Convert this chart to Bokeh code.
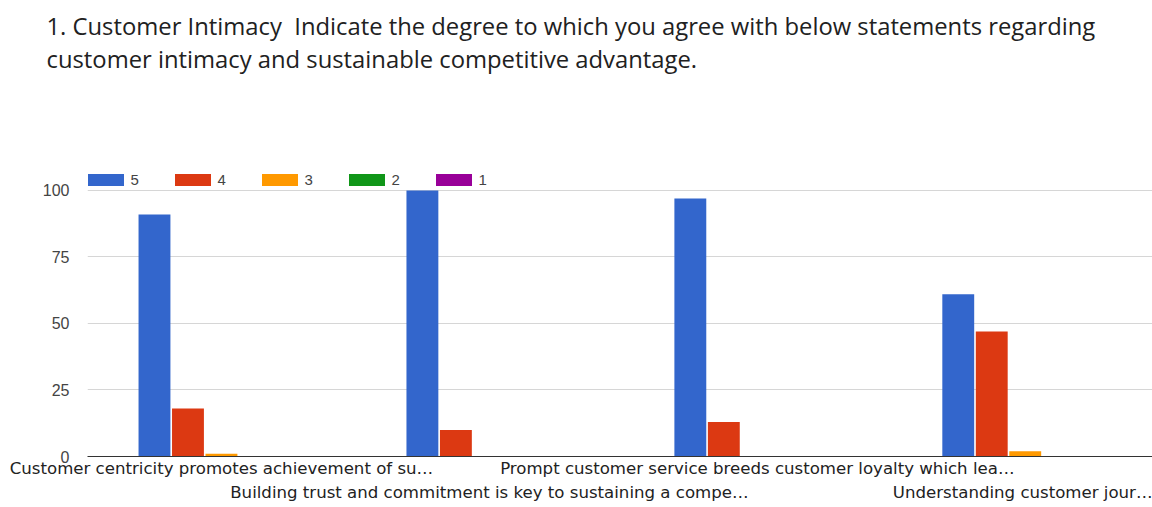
from bokeh.plotting import figure
from bokeh.models import Range1d, FixedTicker, Legend, LegendItem, Title
from bokeh.embed import file_html
from bokeh.resources import INLINE

title_lines = [
    "1. Customer Intimacy\u00a0 Indicate the degree to which you agree with below statements regarding",
    "customer intimacy and sustainable competitive advantage.",
]
categories = [
    "Customer centricity promotes achievement of su\u2026",
    "Building trust and commitment is key to sustaining a compe\u2026",
    "Prompt customer service breeds customer loyalty which lea\u2026",
    "Understanding customer jour\u2026",
]
series_names = ["5", "4", "3", "2", "1"]
s5 = [91, 100, 97, 61]
s4 = [18, 10, 13, 47]
s3 = [1, 0, 0, 2]
s2 = [0, 0, 0, 0]
s1 = [0, 0, 0, 0]
series_values = [s5, s4, s3, s2, s1]
colors = ["#3366CC", "#DC3912", "#FF9900", "#109618", "#990099"]
y_ticks = [0, 25, 50, 75, 100]

p = figure(width=1152, height=507, output_backend="svg", toolbar_location=None,
           x_range=Range1d(0, 3.975), y_range=Range1d(0, 112),
           min_border_left=87, min_border_right=0, min_border_top=158, min_border_bottom=51)
p.outline_line_color = None
p.xgrid.visible = False
p.ygrid.ticker = FixedTicker(ticks=y_ticks)
p.ygrid.grid_line_color = "#d6d6d6"

yax = p.yaxis[0]
yax.ticker = FixedTicker(ticks=y_ticks)
yax.axis_line_color = None
yax.major_tick_line_color = None
yax.minor_tick_line_color = None
yax.major_tick_out = 0
yax.major_tick_in = 0
yax.major_label_standoff = 18
yax.major_label_text_font = "Liberation Sans"
yax.major_label_text_font_size = "16px"
yax.major_label_text_color = "#444444"

# category tick positions at group centres, labels staggered over two rows
cat_pos = [i + 0.5 for i in range(len(categories))]
overrides = {}
for i, (pos, cat) in enumerate(zip(cat_pos, categories)):
    overrides[pos] = ("\n" + cat) if i % 2 == 1 else cat
xax = p.xaxis[0]
xax.ticker = FixedTicker(ticks=cat_pos)
xax.major_label_overrides = overrides
xax.axis_line_color = "#333333"
xax.major_tick_line_color = None
xax.minor_tick_line_color = None
xax.major_tick_out = 0
xax.major_tick_in = 0
xax.major_label_standoff = 2
xax.major_label_text_font = "DejaVu Sans"
xax.major_label_text_font_size = "16.6px"
xax.major_label_text_color = "#222222"
xax.major_label_text_line_height = 1.28

pitch = 0.125
bw = 0.119
renderers = []
for j, (vals, col) in enumerate(zip(series_values, colors)):
    xs = [pos + (j - 2) * pitch for pos in cat_pos]
    r = p.vbar(x=xs, top=vals, bottom=0, width=bw, fill_color=col, line_color=None)
    renderers.append(r)

legend = Legend(items=[LegendItem(label=n, renderers=[r]) for n, r in zip(series_names, renderers)],
                orientation="horizontal", location=(-4.5, 268.5), glyph_width=45, glyph_height=15,
                label_standoff=3, label_width=34, label_height=15, spacing=5, padding=0, margin=0,
                border_line_color=None, background_fill_alpha=0,
                label_text_font="Liberation Sans", label_text_font_size="15px",
                label_text_color="#444444")
p.add_layout(legend, "center")

# title lines above the plot: spacer nearest the plot, then line 2, then line 1
p.title = None
p.add_layout(Title(text="\u00a0", text_font_size="10px", standoff=71), "above")
p.add_layout(Title(text=title_lines[1], align="left", offset=-41, standoff=-1,
                   text_font="Open Sans", text_font_size="23.8px", text_font_style="normal",
                   text_color="#212121"), "above")
p.add_layout(Title(text=title_lines[0], align="left", offset=-41, standoff=-1,
                   text_font="Open Sans", text_font_size="23.8px", text_font_style="normal",
                   text_color="#212121"), "above")

open("out.html", "w").write(file_html(p, INLINE))
